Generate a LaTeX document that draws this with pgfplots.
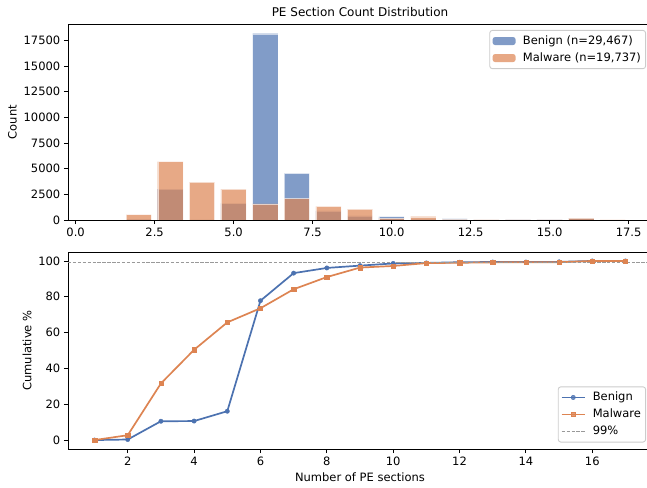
\documentclass[border=0pt]{standalone}
\usepackage{fontspec}
\setmainfont{DejaVu Sans}
\usepackage{pgfplots}
\pgfplotsset{compat=1.18}

\definecolor{cblue}{HTML}{4C72B0}
\definecolor{corange}{HTML}{DD8452}
\definecolor{legframe}{HTML}{CCCCCC}
\definecolor{refgray}{HTML}{999999}

% counts per number of sections (empty bins left out)
\pgfplotstableread{
n count
2 88
3 3005
4 30
5 1620
6 18160
7 4540
8 880
9 400
10 330
11 118
12 130
13 30
14 10
15 10
16 175
}\benigncounts

\pgfplotstableread{
n count
2 530
3 5700
4 3700
5 3020
6 1560
7 2080
8 1340
9 1050
10 160
11 320
12 60
13 40
14 20
15 10
16 175
17 10
}\malwarecounts

% cumulative percentages
\pgfplotstableread{
n benign malware
1 0.0 0.0
2 0.3 2.7
3 10.5 31.6
4 10.6 50.4
5 16.1 65.7
6 77.8 73.6
7 93.2 84.2
8 96.1 91.0
9 97.4 96.3
10 98.6 97.2
11 98.9 98.8
12 99.3 99.0
13 99.4 99.2
14 99.4 99.3
15 99.5 99.3
16 100.0 100.0
17 100.0 100.0
}\cumul

\newcommand{\lbl}{\fontsize{11.5}{13.8}\selectfont}

\pgfplotsset{
  every axis/.append style={
    scale only axis,
    width=584pt,
    axis line style={black, line width=0.9pt},
    tick align=outside,
    tick pos=left,
    major tick length=4.2pt,
    every tick/.style={black, line width=0.9pt},
    tick label style={font=\lbl},
    label style={font=\lbl},
    /pgf/number format/assume math mode=true,
    legend cell align=left,
    legend style={draw=legframe, line width=0.9pt, rounded corners=2.5pt,
      fill=white, fill opacity=0.8, text opacity=1, font=\lbl,
      inner sep=2.6pt, row sep=1pt, column sep=5.2pt,
      nodes={inner xsep=2pt, inner ysep=2pt, text height=9pt, text depth=3pt}},
  },
}

\begin{document}
\begin{tikzpicture}
\begin{axis}[
  name=top,
  at={(0pt,0pt)}, anchor=south west,
  height=196pt,
  xmin=-0.24, xmax=18.24,
  ymin=0, ymax=19110,
  xtick={0,2.5,5,7.5,10,12.5,15,17.5},
  xticklabels={0.0,2.5,5.0,7.5,10.0,12.5,15.0,17.5},
  ytick={0,2500,5000,7500,10000,12500,15000,17500},
  scaled y ticks=false,
  yticklabel style={/pgf/number format/fixed, /pgf/number format/1000 sep={}},
  ylabel={Count},
  title={PE Section Count Distribution},
  title style={font=\fontsize{12}{14}\selectfont, yshift=-2pt},
  legend style={at={(1,1)}, anchor=north east, xshift=-6pt, yshift=-6pt},
  legend image code/.code={\fill[#1, draw opacity=0] (0pt,-4pt) rectangle (23pt,4pt);},
]
\addplot[ybar, bar width=0.8, bar shift=0pt, fill=cblue, fill opacity=0.7,
  draw=white, draw opacity=0.6, line width=0.4pt]
  table[x=n, y=count] {\benigncounts};
\addlegendentry{Benign (n=29,467)}
\addplot[ybar, bar width=0.8, bar shift=0pt, fill=corange, fill opacity=0.7,
  draw=white, draw opacity=0.6, line width=0.4pt]
  table[x=n, y=count] {\malwarecounts};
\addlegendentry{Malware (n=19,737)}
\end{axis}

\begin{axis}[
  at={(0pt,-229pt)}, anchor=south west,
  height=197pt,
  xmin=0.2, xmax=17.8,
  ymin=-5, ymax=105,
  xtick={2,4,6,8,10,12,14,16},
  ytick={0,20,40,60,80,100},
  xlabel={Number of PE sections},
  ylabel={Cumulative \%},
  legend style={at={(1,0)}, anchor=south east, xshift=-6pt, yshift=6.5pt},
  legend image code/.code={\draw[mark repeat=2, mark phase=2, #1]
    plot coordinates {(0pt,0pt) (11.5pt,0pt) (23pt,0pt)};},
]
\addplot[cblue, line width=1.7pt, mark=*, mark size=2.2pt,
  mark options={solid, fill=cblue, draw=cblue, line width=0.4pt}]
  table[x=n, y=benign] {\cumul};
\addlegendentry{Benign}
\addplot[corange, line width=1.7pt, mark=square*, mark size=2.2pt,
  mark options={solid, fill=corange, draw=corange, line width=0.4pt}]
  table[x=n, y=malware] {\cumul};
\addlegendentry{Malware}
\addplot[refgray, line width=0.9pt, dash pattern=on 3.4pt off 1.5pt]
  coordinates {(0.2,99) (17.8,99)};
\addlegendentry{99\%}
\end{axis}

\pgfresetboundingbox
\useasboundingbox (-68pt,-267pt) rectangle (579pt,220pt);
\end{tikzpicture}
\end{document}
